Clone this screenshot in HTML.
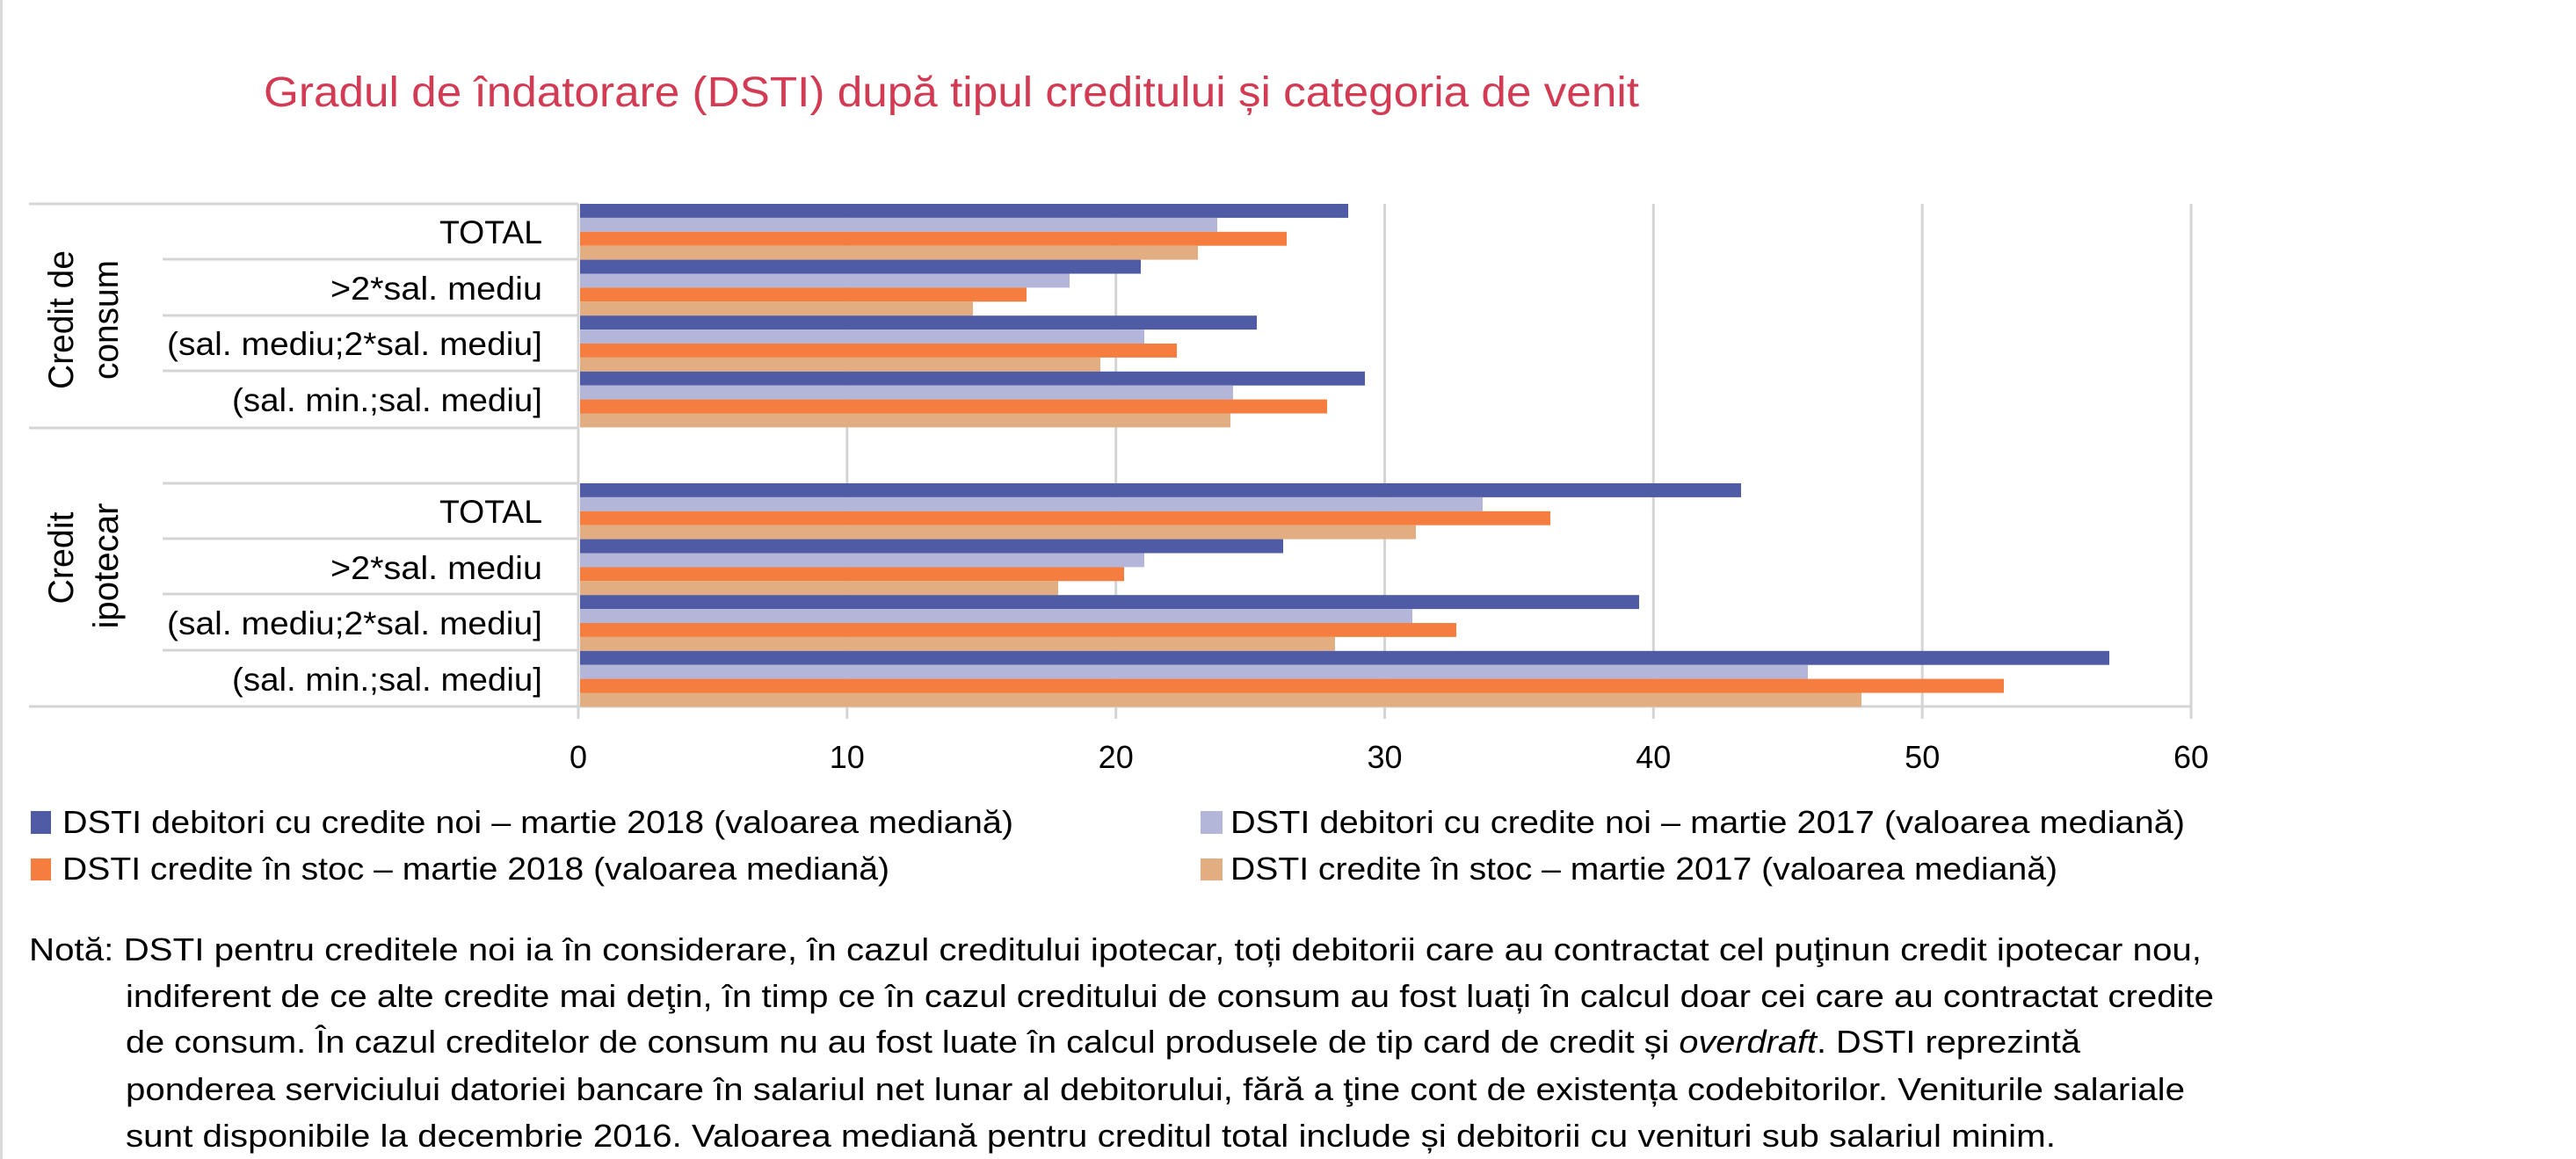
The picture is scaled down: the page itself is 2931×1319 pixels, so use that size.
<!DOCTYPE html>
<html><head><meta charset="utf-8"><style>
html,body{margin:0;padding:0;background:#fff;}
svg{display:block;}
text{font-family:"Liberation Sans",sans-serif;fill:#000;}
</style></head><body>
<svg width="2931" height="1319" viewBox="0 0 2931 1319" xmlns="http://www.w3.org/2000/svg">
<rect x="0" y="0" width="2931" height="1319" fill="#fff"/>
<rect x="0" y="0" width="3" height="1319" fill="#d9d9d9"/>
<text x="300" y="121" font-size="48" textLength="1565" lengthAdjust="spacingAndGlyphs" style="fill:#d23b53">Gradul de îndatorare (DSTI) după tipul creditului și categoria de venit</text>

<!-- gridlines -->
<g stroke="#d4d4d4" stroke-width="3">
<line x1="658" y1="232" x2="658" y2="818"/>
<line x1="963.8" y1="232" x2="963.8" y2="818"/>
<line x1="1269.7" y1="232" x2="1269.7" y2="818"/>
<line x1="1575.5" y1="232" x2="1575.5" y2="818"/>
<line x1="1881.3" y1="232" x2="1881.3" y2="818"/>
<line x1="2187.2" y1="232" x2="2187.2" y2="818"/>
<line x1="2493" y1="232" x2="2493" y2="818"/>
<line x1="33" y1="232" x2="658" y2="232"/>
<line x1="33" y1="487" x2="658" y2="487"/>
<line x1="33" y1="804" x2="2493" y2="804"/>
<line x1="185" y1="295" x2="658" y2="295"/>
<line x1="185" y1="359" x2="658" y2="359"/>
<line x1="185" y1="422" x2="658" y2="422"/>
<line x1="185" y1="550" x2="658" y2="550"/>
<line x1="185" y1="613" x2="658" y2="613"/>
<line x1="185" y1="676" x2="658" y2="676"/>
<line x1="185" y1="740" x2="658" y2="740"/>
</g>

<!-- bars: slot height 63.6, bar 15.9; x0=658, 30.58/unit -->
<g>
<!-- consum TOTAL y=232 -->
<rect x="660" y="232" width="874" height="15.9" fill="#4f5ba5"/>
<rect x="660" y="247.9" width="725" height="15.9" fill="#b3b6d9"/>
<rect x="660" y="263.8" width="804" height="15.9" fill="#f47d3f"/>
<rect x="660" y="279.7" width="703" height="15.9" fill="#e2ad80"/>
<!-- >2* y=295.6 -->
<rect x="660" y="295.6" width="638" height="15.9" fill="#4f5ba5"/>
<rect x="660" y="311.5" width="557" height="15.9" fill="#b3b6d9"/>
<rect x="660" y="327.4" width="508" height="15.9" fill="#f47d3f"/>
<rect x="660" y="343.3" width="447" height="15.9" fill="#e2ad80"/>
<!-- mediu;2* y=359.2 -->
<rect x="660" y="359.2" width="770" height="15.9" fill="#4f5ba5"/>
<rect x="660" y="375.1" width="642" height="15.9" fill="#b3b6d9"/>
<rect x="660" y="391" width="679" height="15.9" fill="#f47d3f"/>
<rect x="660" y="406.9" width="592" height="15.9" fill="#e2ad80"/>
<!-- min;mediu y=422.8 -->
<rect x="660" y="422.8" width="893" height="15.9" fill="#4f5ba5"/>
<rect x="660" y="438.7" width="743" height="15.9" fill="#b3b6d9"/>
<rect x="660" y="454.6" width="850" height="15.9" fill="#f47d3f"/>
<rect x="660" y="470.5" width="740" height="15.9" fill="#e2ad80"/>
<!-- ipotecar TOTAL y=550 -->
<rect x="660" y="550" width="1321" height="15.9" fill="#4f5ba5"/>
<rect x="660" y="565.9" width="1027" height="15.9" fill="#b3b6d9"/>
<rect x="660" y="581.8" width="1104" height="15.9" fill="#f47d3f"/>
<rect x="660" y="597.7" width="951" height="15.9" fill="#e2ad80"/>
<!-- >2* y=613.6 -->
<rect x="660" y="613.6" width="800" height="15.9" fill="#4f5ba5"/>
<rect x="660" y="629.5" width="642" height="15.9" fill="#b3b6d9"/>
<rect x="660" y="645.4" width="619" height="15.9" fill="#f47d3f"/>
<rect x="660" y="661.3" width="544" height="15.9" fill="#e2ad80"/>
<!-- mediu;2* y=677.2 -->
<rect x="660" y="677.2" width="1205" height="15.9" fill="#4f5ba5"/>
<rect x="660" y="693.1" width="947" height="15.9" fill="#b3b6d9"/>
<rect x="660" y="709" width="997" height="15.9" fill="#f47d3f"/>
<rect x="660" y="724.9" width="859" height="15.9" fill="#e2ad80"/>
<!-- min;mediu y=740.8 -->
<rect x="660" y="740.8" width="1740" height="15.9" fill="#4f5ba5"/>
<rect x="660" y="756.7" width="1397" height="15.9" fill="#b3b6d9"/>
<rect x="660" y="772.6" width="1620" height="15.9" fill="#f47d3f"/>
<rect x="660" y="788.5" width="1458" height="15.9" fill="#e2ad80"/>
</g>

<!-- category labels -->
<g font-size="37" text-anchor="end">
<text x="617" y="277" textLength="117" lengthAdjust="spacingAndGlyphs">TOTAL</text>
<text x="617" y="341" textLength="241" lengthAdjust="spacingAndGlyphs">&gt;2*sal. mediu</text>
<text x="617" y="404" textLength="427" lengthAdjust="spacingAndGlyphs">(sal. mediu;2*sal. mediu]</text>
<text x="617" y="468" textLength="353" lengthAdjust="spacingAndGlyphs">(sal. min.;sal. mediu]</text>
<text x="617" y="595" textLength="117" lengthAdjust="spacingAndGlyphs">TOTAL</text>
<text x="617" y="659" textLength="241" lengthAdjust="spacingAndGlyphs">&gt;2*sal. mediu</text>
<text x="617" y="722" textLength="427" lengthAdjust="spacingAndGlyphs">(sal. mediu;2*sal. mediu]</text>
<text x="617" y="786" textLength="353" lengthAdjust="spacingAndGlyphs">(sal. min.;sal. mediu]</text>
</g>

<!-- group labels -->
<g font-size="40" text-anchor="middle">
<text transform="translate(83,364) rotate(-90)" textLength="158" lengthAdjust="spacingAndGlyphs">Credit de</text>
<text transform="translate(134,364) rotate(-90)" textLength="136" lengthAdjust="spacingAndGlyphs">consum</text>
<text transform="translate(83,635) rotate(-90)" textLength="105" lengthAdjust="spacingAndGlyphs">Credit</text>
<text transform="translate(134,644) rotate(-90)" textLength="143" lengthAdjust="spacingAndGlyphs">ipotecar</text>
</g>

<!-- tick labels -->
<g font-size="36" text-anchor="middle">
<text x="658" y="874">0</text>
<text x="963.8" y="874">10</text>
<text x="1269.7" y="874">20</text>
<text x="1575.5" y="874">30</text>
<text x="1881.3" y="874">40</text>
<text x="2187.2" y="874">50</text>
<text x="2493" y="874">60</text>
</g>

<!-- legend -->
<rect x="35" y="923" width="23" height="26" fill="#4f5ba5"/>
<rect x="35" y="977" width="23" height="25" fill="#f47d3f"/>
<rect x="1366" y="923" width="25" height="26" fill="#b3b6d9"/>
<rect x="1366" y="977" width="25" height="25" fill="#e2ad80"/>
<g font-size="36">
<text x="71" y="948" textLength="1082" lengthAdjust="spacingAndGlyphs">DSTI debitori cu credite noi – martie 2018 (valoarea mediană)</text>
<text x="71" y="1001" textLength="941" lengthAdjust="spacingAndGlyphs">DSTI credite în stoc – martie 2018 (valoarea mediană)</text>
<text x="1400" y="948" textLength="1086" lengthAdjust="spacingAndGlyphs">DSTI debitori cu credite noi – martie 2017 (valoarea mediană)</text>
<text x="1400" y="1001" textLength="941" lengthAdjust="spacingAndGlyphs">DSTI credite în stoc – martie 2017 (valoarea mediană)</text>
</g>

<!-- note -->
<g font-size="36">
<text x="33" y="1093" textLength="2472" lengthAdjust="spacingAndGlyphs">Notă: DSTI pentru creditele noi ia în considerare, în cazul creditului ipotecar, toți debitorii care au contractat cel puţinun credit ipotecar nou,</text>
<text x="143" y="1146" textLength="2376" lengthAdjust="spacingAndGlyphs">indiferent de ce alte credite mai deţin, în timp ce în cazul creditului de consum au fost luați în calcul doar cei care au contractat credite</text>
<text x="143" y="1198" textLength="2224" lengthAdjust="spacingAndGlyphs">de consum. În cazul creditelor de consum nu au fost luate în calcul produsele de tip card de credit și <tspan font-style="italic">overdraft</tspan>. DSTI reprezintă</text>
<text x="143" y="1252" textLength="2343" lengthAdjust="spacingAndGlyphs">ponderea serviciului datoriei bancare în salariul net lunar al debitorului, fără a ţine cont de existența codebitorilor. Veniturile salariale</text>
<text x="143" y="1305" textLength="2196" lengthAdjust="spacingAndGlyphs">sunt disponibile la decembrie 2016. Valoarea mediană pentru creditul total include și debitorii cu venituri sub salariul minim.</text>
</g>
</svg>
</body></html>
